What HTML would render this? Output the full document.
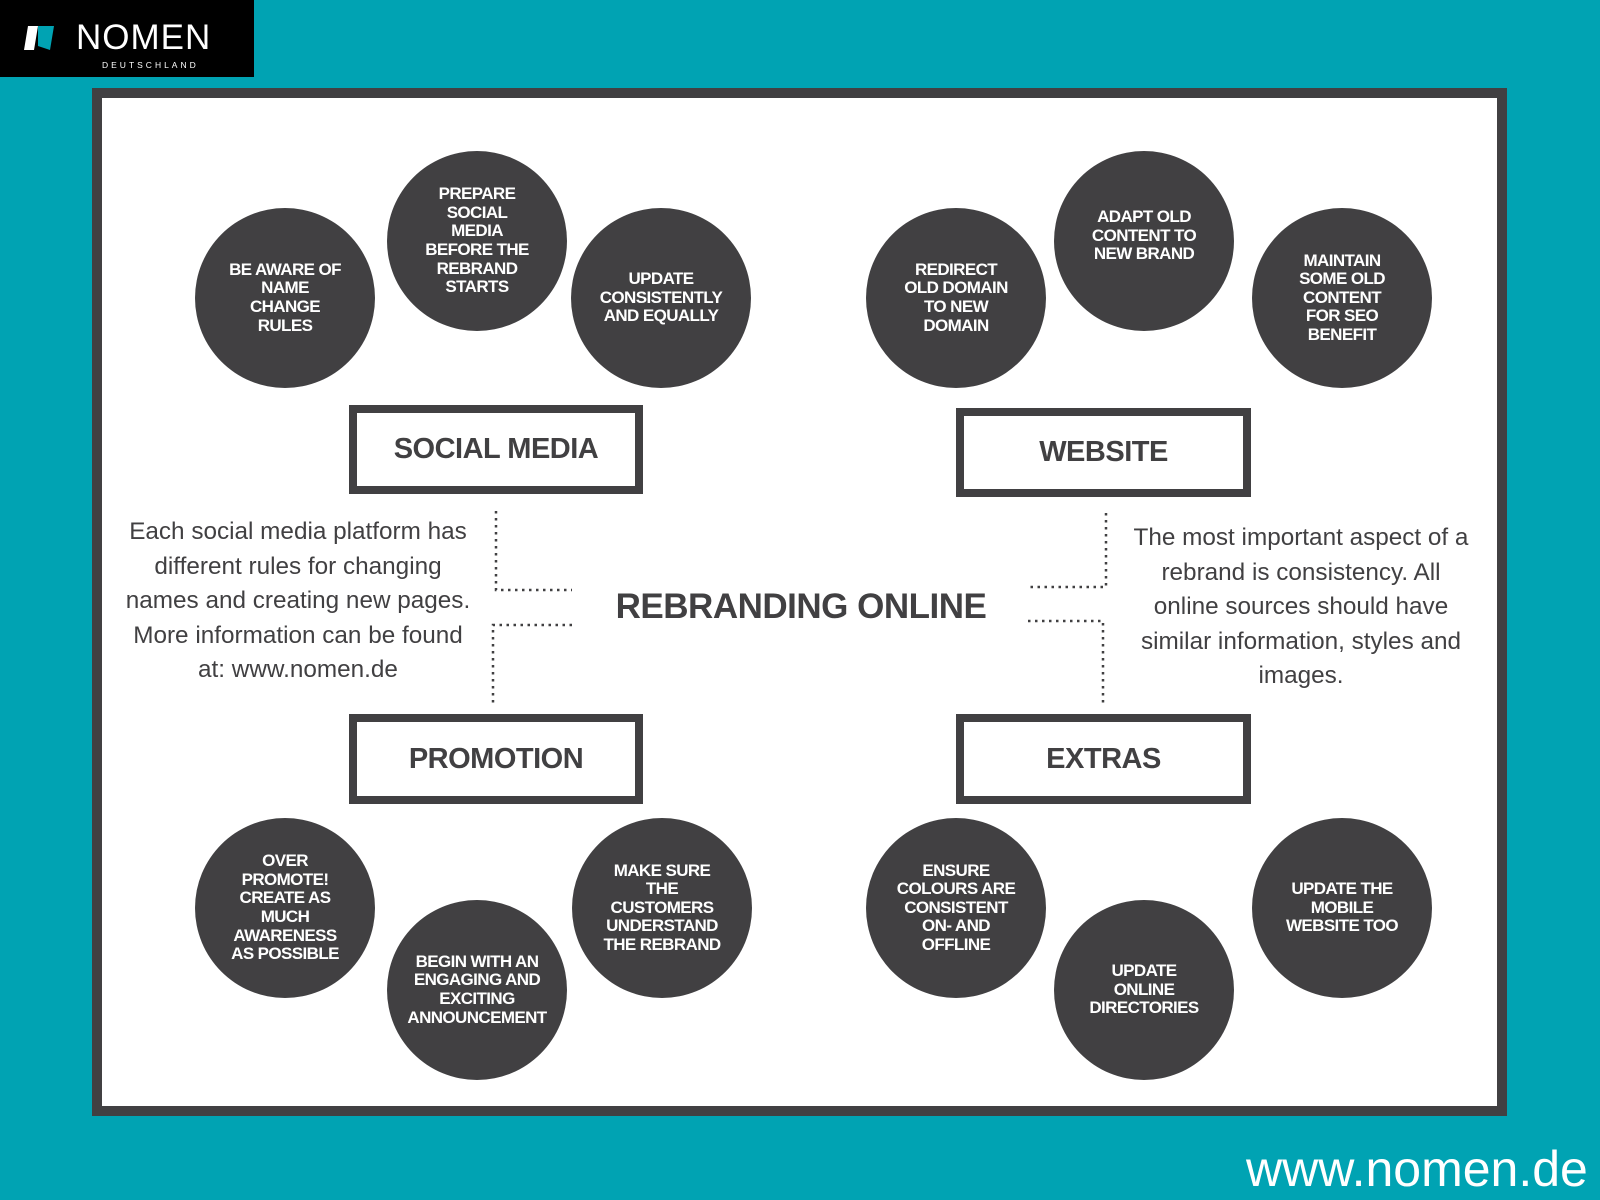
<!DOCTYPE html>
<html><head><meta charset="utf-8"><style>
*{margin:0;padding:0;box-sizing:border-box}
body{width:1600px;height:1200px;background:#00a3b3;position:relative;overflow:hidden;font-family:"Liberation Sans",sans-serif}
.abs{position:absolute}
.frame{left:92px;top:88px;width:1415px;height:1028px;background:#fff;border:10px solid #414042}
.c{position:absolute;width:180px;height:180px;border-radius:50%;background:#414042;color:#fff;font-weight:bold;font-size:17px;line-height:18.6px;letter-spacing:-0.6px;text-align:center;display:flex;align-items:center;justify-content:center;white-space:nowrap}
.box{position:absolute;border:8px solid #414042;background:#fff;color:#414042;font-weight:bold;font-size:29px;letter-spacing:-0.5px;display:flex;align-items:center;justify-content:center}
.txt{position:absolute;color:#414042;font-size:24.3px;line-height:34.5px;text-align:center;white-space:nowrap}
</style></head><body>
<div class="abs" style="left:0;top:0;width:254px;height:77px;background:#000"></div>
<svg class="abs" style="left:24px;top:24px" width="32" height="28"><polygon points="4,2 14,2 10,26 0,26" fill="#fff"/><polygon points="14,2 30,2 26,26 14,22" fill="#00a3b3"/></svg>
<div class="abs" style="left:76px;top:18px;color:#fff;font-size:35px;letter-spacing:1px">NOMEN</div>
<div class="abs" style="left:102px;top:60px;color:#fff;font-size:8.5px;letter-spacing:3px">DEUTSCHLAND</div>
<div class="abs frame"></div>

<div class="c" style="left:195px;top:208px">BE AWARE OF<br>NAME<br>CHANGE<br>RULES</div>
<div class="c" style="left:387px;top:151px">PREPARE<br>SOCIAL<br>MEDIA<br>BEFORE THE<br>REBRAND<br>STARTS</div>
<div class="c" style="left:571px;top:208px">UPDATE<br>CONSISTENTLY<br>AND EQUALLY</div>
<div class="c" style="left:866px;top:208px">REDIRECT<br>OLD DOMAIN<br>TO NEW<br>DOMAIN</div>
<div class="c" style="left:1054px;top:151px"><span style="position:relative;top:-5px">ADAPT OLD<br>CONTENT TO<br>NEW BRAND</span></div>
<div class="c" style="left:1252px;top:208px">MAINTAIN<br>SOME OLD<br>CONTENT<br>FOR SEO<br>BENEFIT</div>
<div class="c" style="left:195px;top:818px">OVER<br>PROMOTE!<br>CREATE AS<br>MUCH<br>AWARENESS<br>AS POSSIBLE</div>
<div class="c" style="left:387px;top:900px">BEGIN WITH AN<br>ENGAGING AND<br>EXCITING<br>ANNOUNCEMENT</div>
<div class="c" style="left:572px;top:818px">MAKE SURE<br>THE<br>CUSTOMERS<br>UNDERSTAND<br>THE REBRAND</div>
<div class="c" style="left:866px;top:818px">ENSURE<br>COLOURS ARE<br>CONSISTENT<br>ON- AND<br>OFFLINE</div>
<div class="c" style="left:1054px;top:900px">UPDATE<br>ONLINE<br>DIRECTORIES</div>
<div class="c" style="left:1252px;top:818px">UPDATE THE<br>MOBILE<br>WEBSITE TOO</div>

<div class="box" style="left:349px;top:405px;width:294px;height:89px">SOCIAL MEDIA</div>
<div class="box" style="left:956px;top:408px;width:295px;height:89px">WEBSITE</div>
<div class="box" style="left:349px;top:714px;width:294px;height:90px">PROMOTION</div>
<div class="box" style="left:956px;top:714px;width:295px;height:90px">EXTRAS</div>

<div class="abs" style="left:560px;top:587px;width:482px;text-align:center;color:#414042;font-weight:bold;font-size:35px;letter-spacing:-0.5px">REBRANDING ONLINE</div>

<div class="txt" style="left:108px;top:515px;width:380px">Each social media platform has<br>different rules for changing<br>names and creating new pages.<br>More information can be found<br>at: www.nomen.de</div>
<div class="txt" style="left:1121px;top:521px;width:360px">The most important aspect of a<br>rebrand is consistency. All<br>online sources should have<br>similar information, styles and<br>images.</div>

<svg class="abs" style="left:0;top:0" width="1600" height="1200">
<g stroke="#414042" stroke-width="2.5" stroke-dasharray="2.5,4.5" fill="none">
<polyline points="496,511 496,590 572,590"/>
<polyline points="572,625 493,625 493,703"/>
<polyline points="1106,513 1106,587 1028,587"/>
<polyline points="1028,621 1103,621 1103,703"/>
</g></svg>

<div class="abs" style="left:1246px;top:1140px;color:#fff;font-size:50px">www.nomen.de</div>
</body></html>
